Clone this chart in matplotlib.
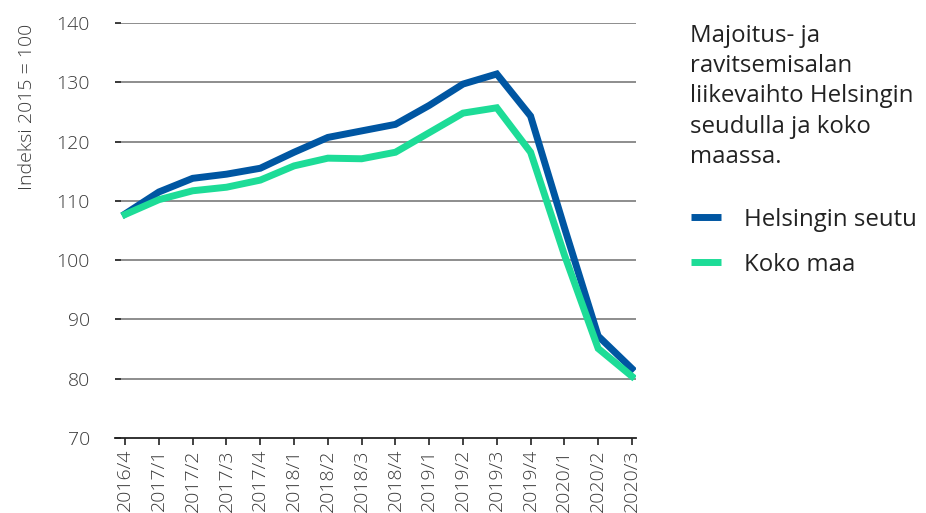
import matplotlib
matplotlib.use("Agg")
import matplotlib.pyplot as plt
from matplotlib.lines import Line2D

quarters = ["2016/4", "2017/1", "2017/2", "2017/3", "2017/4", "2018/1", "2018/2",
            "2018/3", "2018/4", "2019/1", "2019/2", "2019/3", "2019/4", "2020/1",
            "2020/2", "2020/3"]
helsinki = [107.8, 111.5, 113.8, 114.5, 115.5, 118.2, 120.7, 121.8, 122.9, 126.1,
            129.7, 131.4, 124.3, 105.5, 87.2, 81.7]
koko_maa = [107.7, 110.2, 111.7, 112.3, 113.5, 115.9, 117.2, 117.1, 118.2, 121.5,
            124.8, 125.7, 118.2, 100.9, 85.1, 80.4]
yticks = [70, 80, 90, 100, 110, 120, 130, 140]
series_names = ["Helsingin seutu", "Koko maa"]
title = "Majoitus- ja\nravitsemisalan\nliikevaihto Helsingin\nseudulla ja koko\nmaassa."
ylabel = "Indeksi 2015 = 100"

BLUE = "#0056A2"
GREEN = "#1DDC97"
TXT = "#3a3a3a"
W, H = 926, 513

plt.rcParams['font.family'] = ['Open Sans', 'DejaVu Sans']

fig = plt.figure(figsize=(9.26, 5.13), dpi=100)
ax = fig.add_axes([115/W, 1-438/H, (636-115)/W, (438-23)/H])

x = list(range(len(quarters)))
colors = [BLUE, GREEN]
for i, (vals, c) in enumerate(zip([helsinki, koko_maa], colors)):
    ax.plot(x, vals, color=c, lw=5, solid_joinstyle='miter', zorder=3+i)

ax.set_xlim(-0.3, 15.12)
ax.set_ylim(70, 140)
ax.set_yticks(yticks)
ax.set_yticklabels([str(v) for v in yticks], fontsize=14, color=TXT, fontweight='light')
ax.set_xticks(x)
ax.set_xticklabels(quarters, rotation=90, fontsize=14, color=TXT, fontweight='light')

for v in yticks[1:]:
    ax.axhline(v, color="#858585", lw=1.3, zorder=1)

for s in ["top", "right", "left"]:
    ax.spines[s].set_visible(False)
ax.spines["bottom"].set_color("#222222")
ax.spines["bottom"].set_linewidth(1.3)

ax.tick_params(axis='y', direction='in', length=4, width=1.3, color="#333333", pad=18)
ax.tick_params(axis='x', direction='out', length=5, width=1.3, color="#333333", pad=3)

fig.text(27/W, 1-107/H, ylabel, rotation=90, ha='center', va='center',
         fontsize=14, color=TXT, fontweight='light')

fig.text(690/W, 1-163/H, title, ha='left', va='baseline', fontsize=17.3,
         color="#222222", linespacing=1.35)

# legend
leg_y = [217, 262]
for name, c, yy in zip(series_names, colors, leg_y):
    fig.add_artist(Line2D([691/W, 721/W], [1-yy/H, 1-yy/H], color=c, lw=5,
                          solid_capstyle='butt', transform=fig.transFigure))
    fig.text(744/W, 1-yy/H, name, ha='left', va='center_baseline', fontsize=17.3,
             color="#222222")

fig.savefig("out.png", dpi=100)
